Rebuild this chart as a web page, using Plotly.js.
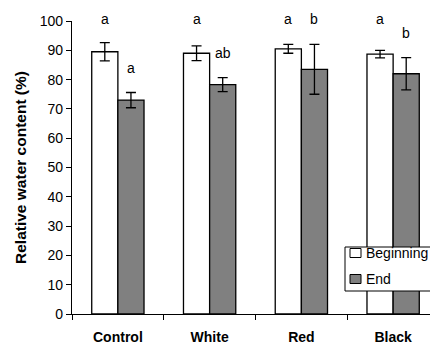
<!DOCTYPE html>
<html><head><meta charset="utf-8">
<script src="https://cdn.plot.ly/plotly-3.0.1.min.js"></script>
<style>html,body{margin:0;padding:0;overflow:hidden;background:#fff}#chart{width:445px;height:345px}</style>
</head><body><div id="chart"></div><script>
const categories = ['Control', 'White', 'Red', 'Black'];
const seriesNames = ['Beginning', 'End'];
const beginningValues = [89.5, 89.0, 90.5, 88.7];
const beginningErrors = [3.1, 2.5, 1.5, 1.3];
const endValues = [73.0, 78.3, 83.5, 82.0];
const endErrors = [2.6, 2.4, 8.5, 5.5];
const beginningLetters = ['a', 'a', 'a', 'a'];
const endLetters = ['a', 'ab', 'b', 'b'];
const yTicks = [0, 10, 20, 30, 40, 50, 60, 70, 80, 90, 100];

const FONT = '"Liberation Sans", Arial, sans-serif';
const COLORS = ['#ffffff', '#808080'];
const bargap = 0.43;
const half = (1 - bargap) / 4;

const W = 445, H = 345, ML = 72, MR = 6, MT = 21, MB = 31;
const PW = W - ML - MR, PH = H - MT - MB;
const px2x = p => (p - ML) / PW;
const px2y = p => (H - MB - p) / PH;

function barTrace(name, vals, errs, fill) {
  return {
    type: 'bar', name: name, x: categories, y: vals, showlegend: false,
    marker: {color: fill, line: {color: '#000', width: 1.3}},
    error_y: {type: 'data', array: errs, visible: true, color: '#000', thickness: 1.3, width: 5}
  };
}

const traces = [
  barTrace(seriesNames[0], beginningValues, beginningErrors, COLORS[0]),
  barTrace(seriesNames[1], endValues, endErrors, COLORS[1])
];

const annotations = [];
function addLetters(letters, vals, errs, offset) {
  letters.forEach((t, i) => {
    const raw = vals[i] + errs[i] + 8.5;
    const top = raw > 97;
    annotations.push({
      x: i + offset, y: top ? 100 : raw,
      yshift: top ? 2 : 0,
      xref: 'x', yref: 'y', text: t, showarrow: false,
      yanchor: 'middle', font: {family: FONT, size: 14, color: '#000'}
    });
  });
}
addLetters(beginningLetters, beginningValues, beginningErrors, -half);
addLetters(endLetters, endValues, endErrors, half);

// legend (box, swatches, labels)
const shapes = [{
  type: 'rect', xref: 'paper', yref: 'paper', layer: 'above',
  x0: px2x(345), x1: px2x(442), y0: px2y(291), y1: px2y(247),
  fillcolor: '#fff', line: {color: '#000', width: 1}
}];
const legendRows = [253, 279];
seriesNames.forEach((n, k) => {
  const cy = legendRows[k];
  shapes.push({
    type: 'rect', xref: 'paper', yref: 'paper', layer: 'above',
    x0: px2x(350), x1: px2x(361), y0: px2y(cy + 4.5), y1: px2y(cy - 4.5),
    fillcolor: COLORS[k], line: {color: '#000', width: 1}
  });
  annotations.push({
    xref: 'paper', yref: 'paper', x: px2x(364), y: px2y(cy),
    xanchor: 'left', yanchor: 'middle', text: n, showarrow: false,
    font: {family: FONT, size: 14, color: '#000'}
  });
});

const layout = {
  width: W, height: H,
  margin: {l: ML, r: MR, t: MT, b: MB},
  paper_bgcolor: '#fff', plot_bgcolor: '#fff',
  font: {family: FONT, color: '#000', size: 13},
  barmode: 'group', bargap: bargap, bargroupgap: 0,
  showlegend: false,
  xaxis: {
    type: 'category', showline: true, linecolor: '#000', linewidth: 1.2,
    ticks: 'outside', tickson: 'boundaries', ticklen: 5, tickcolor: '#000',
    showgrid: false, zeroline: false,
    tickfont: {family: FONT, size: 14, color: '#000', weight: 'bold'},
    ticklabelstandoff: 10, fixedrange: true
  },
  yaxis: {
    range: [0, 100], tickvals: yTicks, ticktext: yTicks.map(String),
    showline: true, linecolor: '#000', linewidth: 1.2,
    ticks: 'outside', ticklen: 5, tickcolor: '#000',
    showgrid: false, zeroline: false,
    tickfont: {family: FONT, size: 14, color: '#000'},
    title: {text: '<b>Relative water content (%)</b>', font: {family: FONT, size: 15.5, color: '#000'}, standoff: 9}
  },
  shapes: shapes,
  annotations: annotations
};

Plotly.newPlot('chart', traces, layout, {staticPlot: true, displayModeBar: false});
</script></body></html>
